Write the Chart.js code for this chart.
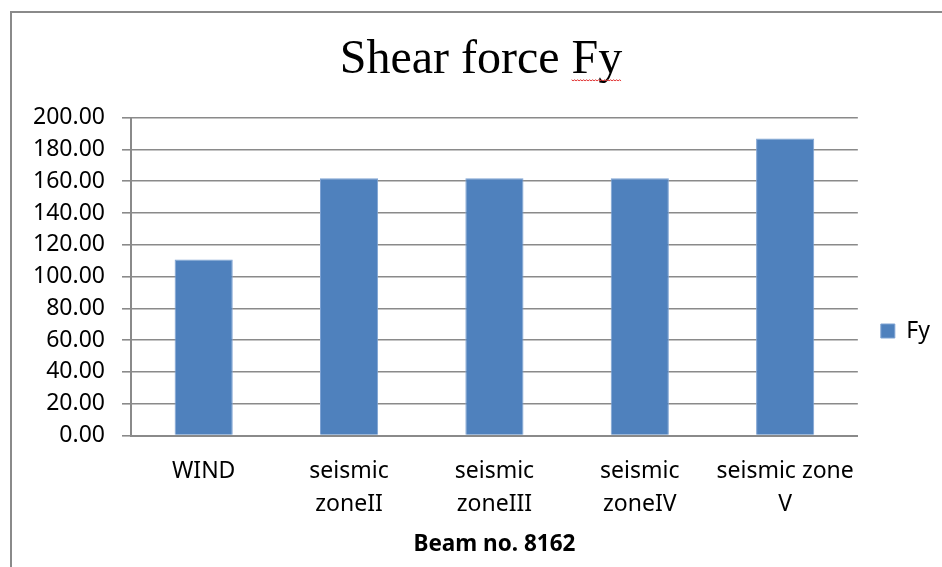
<!DOCTYPE html>
<html>
<head>
<meta charset="utf-8">
<script src="https://cdn.jsdelivr.net/npm/chart.js@4.4.0/dist/chart.umd.min.js"></script>
<style>
  body { margin: 0; background: #fff; overflow: hidden; }
  #frame { position: absolute; left: 10px; top: 11px; width: 960px; height: 600px;
           border-left: 2px solid #8a8a8a; border-top: 2px solid #8a8a8a; }
  #chart { position: absolute; left: 0; top: 0; }
</style>
</head>
<body>
<div id="frame"></div>
<canvas id="chart" width="942" height="567"></canvas>
<script>
// Chart data
var categories = ['WIND', ['seismic', 'zoneII'], ['seismic', 'zoneIII'], ['seismic', 'zoneIV'], ['seismic zone', 'V']];
var fyValues = [110.7, 161.8, 161.8, 161.8, 186.8];
var seriesName = 'Fy';
var yTicks = [0, 20, 40, 60, 80, 100, 120, 140, 160, 180, 200];

var gridGray = '#8a8a8a';
var labelFont = 'Noto Sans';

// Red spell-check squiggle under "Fy" in the title (like the original screenshot)
var squiggle = {
  id: 'squiggle',
  afterDraw: function(chart) {
    var tb = chart.titleBlock;
    if (!tb) return;
    var ctx = chart.ctx;
    var txt = chart.options.plugins.title.text;
    ctx.save();
    ctx.font = '48px "Liberation Serif"';
    var full = ctx.measureText(txt).width;
    var before = ctx.measureText('Shear force ').width;
    var word = ctx.measureText('Fy').width;
    var cx = (tb.left + tb.right) / 2;
    var x0 = cx - full / 2 + before;
    var y = tb.top + tb.options.padding.top + 28.8 + 19;
    ctx.strokeStyle = '#e03030';
    ctx.lineWidth = 1;
    ctx.beginPath();
    for (var x = x0, i = 0; x <= x0 + word; x += 1.5, i++) {
      var yy = y + (i % 2 ? 1 : 0);
      if (i === 0) ctx.moveTo(x, yy); else ctx.lineTo(x, yy);
    }
    ctx.stroke();
    ctx.restore();
  }
};

new Chart(document.getElementById('chart'), {
  type: 'bar',
  data: {
    labels: categories,
    datasets: [{
      label: seriesName,
      data: fyValues,
      backgroundColor: '#4F81BD',
      borderColor: '#7fa3d3',
      borderWidth: 1,
      barPercentage: 0.4,
      categoryPercentage: 1.0
    }]
  },
  options: {
    responsive: false,
    animation: false,
    layout: { padding: { left: 22, right: 2, top: 0, bottom: 0 } },
    plugins: {
      title: {
        display: true,
        text: 'Shear force Fy',
        color: '#000',
        font: { family: 'Liberation Serif', size: 48, weight: 'normal', lineHeight: 1.2 },
        padding: { top: 32, bottom: 28 }
      },
      legend: {
        position: 'right',
        title: { display: true, text: '', font: { size: 1, lineHeight: 1 }, padding: { top: 94, bottom: 0 } },
        labels: {
          boxWidth: 14,
          boxHeight: 14,
          padding: 23,
          color: '#000',
          font: { family: labelFont, size: 23 }
        }
      },
      tooltip: { enabled: false }
    },
    scales: {
      x: {
        grid: { display: false },
        border: { display: true, color: gridGray, width: 2 },
        ticks: {
          color: '#000',
          padding: 11,
          maxRotation: 0,
          autoSkip: false,
          font: { family: labelFont, size: 23, lineHeight: 1.45 }
        },
        title: {
          display: true,
          text: 'Beam no. 8162',
          color: '#000',
          font: { family: labelFont, size: 22.5, weight: 'bold' },
          padding: { top: 0, bottom: 9 }
        },
        afterFit: function(scale) { scale.height = 131.5; }
      },
      y: {
        min: 0,
        max: 200,
        afterBuildTicks: function(scale) {
          scale.ticks = yTicks.map(function(v) { return { value: v }; });
        },
        grid: { color: gridGray, lineWidth: 1.6, tickLength: 9, tickColor: gridGray },
        border: { display: true, color: gridGray, width: 2 },
        ticks: {
          color: '#000',
          padding: 17,
          font: { family: labelFont, size: 23 },
          callback: function(v) { return Number(v).toFixed(2); }
        },
        afterFit: function(scale) { scale.width = 109; }
      }
    }
  },
  plugins: [squiggle]
});
</script>
</body>
</html>
